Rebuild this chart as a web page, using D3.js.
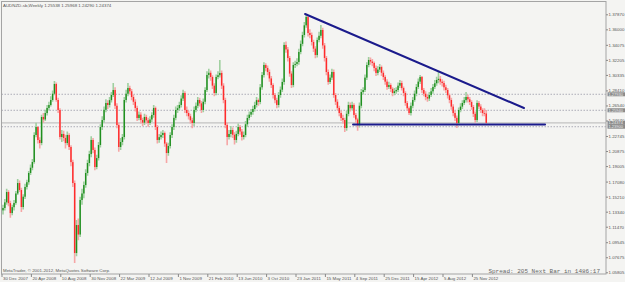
<!DOCTYPE html>
<html>
<head>
<meta charset="utf-8">
<script src="https://cdn.jsdelivr.net/npm/d3@7"></script>
<style>
  body { margin: 0; background: #f4f4f2; }
  svg { display: block; font-family: "Liberation Sans", Arial, sans-serif; }
</style>
</head>
<body>
<div id="chart"></div>
<script>
// weekly AUDNZD bars, index 0 = week of 30 Dec 2007
const opens = [
1.1350,1.1380,1.1450,1.1578,1.1440,1.1317,1.1390,1.1442,1.1560,1.1690,1.1603,1.1392,
1.1520,1.1641,1.1700,1.1815,1.1880,1.1951,1.2287,1.2386,1.2225,1.2187,1.2511,1.2480,
1.2560,1.2623,1.2660,1.2722,1.2800,1.2921,1.2722,1.2598,1.2262,1.2300,1.2250,1.2187,
1.2287,1.2138,1.1950,1.1690,1.0820,1.1168,1.1050,1.1479,1.1560,1.1665,1.1815,1.1939,
1.2050,1.2225,1.2101,1.1889,1.2000,1.2163,1.2386,1.2473,1.2600,1.2685,1.2660,1.2720,
1.2784,1.2846,1.2650,1.2411,1.2138,1.2200,1.2262,1.2722,1.2800,1.2871,1.2830,1.2759,
1.2700,1.2623,1.2498,1.2540,1.2473,1.2440,1.2511,1.2470,1.2436,1.2480,1.2536,1.2623,
1.2386,1.2225,1.2260,1.2287,1.2312,1.2180,1.2063,1.2150,1.2287,1.2386,1.2500,1.2598,
1.2620,1.2660,1.2740,1.2809,1.2598,1.2560,1.2520,1.2470,1.2436,1.2598,1.2650,1.2722,
1.2680,1.2598,1.2700,1.2846,1.3033,1.3060,1.3008,1.2900,1.2809,1.3008,1.3030,1.3058,
1.2900,1.2722,1.2411,1.2262,1.2300,1.2349,1.2290,1.2225,1.2300,1.2386,1.2330,1.2262,
1.2287,1.2420,1.2498,1.2540,1.2573,1.2610,1.2660,1.2720,1.2697,1.2880,1.3033,1.3157,
1.3120,1.3070,1.2990,1.2908,1.2784,1.2720,1.2660,1.2784,1.2850,1.2946,1.3406,1.3350,
1.3244,1.3050,1.2908,1.3157,1.3170,1.3194,1.3319,1.3420,1.3530,1.3650,1.3754,1.3555,
1.3530,1.3443,1.3360,1.3281,1.3468,1.3520,1.3592,1.3400,1.3244,1.3070,1.2946,1.3000,
1.3070,1.2784,1.2700,1.2623,1.2560,1.2498,1.2473,1.2374,1.2550,1.2660,1.2620,1.2660,
1.2536,1.2480,1.2411,1.2650,1.2821,1.2846,1.3000,1.3157,1.3219,1.3200,1.3182,1.3120,
1.3058,1.3100,1.3132,1.3060,1.3008,1.2950,1.2884,1.2908,1.2860,1.2809,1.2830,1.2846,
1.2900,1.2933,1.2870,1.2809,1.2685,1.2620,1.2560,1.2650,1.2722,1.2800,1.2884,1.2950,
1.3008,1.2846,1.2800,1.2759,1.2740,1.2784,1.2830,1.2884,1.2930,1.2971,1.2985,1.2950,
1.2933,1.2880,1.2846,1.2780,1.2722,1.2640,1.2560,1.2500,1.2436,1.2598,1.2640,1.2685,
1.2720,1.2759,1.2730,1.2697,1.2635,1.2550,1.2473,1.2685,1.2640,1.2598,1.2560,1.2554
];
const highs = [
1.1420,1.1490,1.1620,1.1600,1.1470,1.1420,1.1480,1.1590,1.1740,1.1720,1.1630,1.1550,
1.1680,1.1730,1.1840,1.1920,1.1990,1.2320,1.2440,1.2400,1.2260,1.2540,1.2560,1.2600,
1.2660,1.2700,1.2770,1.2840,1.2958,1.2940,1.2750,1.2620,1.2350,1.2340,1.2290,1.2330,
1.2310,1.2160,1.1980,1.1720,1.1230,1.1250,1.1520,1.1620,1.1710,1.1860,1.1980,1.2090,
1.2270,1.2250,1.2130,1.2040,1.2200,1.2420,1.2520,1.2640,1.2730,1.2720,1.2760,1.2820,
1.2933,1.2880,1.2680,1.2440,1.2250,1.2300,1.2760,1.2850,1.2933,1.2900,1.2860,1.2790,
1.2730,1.2650,1.2580,1.2570,1.2500,1.2550,1.2540,1.2500,1.2520,1.2570,1.2660,1.2640,
1.2410,1.2300,1.2330,1.2350,1.2330,1.2200,1.2190,1.2320,1.2420,1.2540,1.2640,1.2660,
1.2700,1.2780,1.2850,1.2830,1.2640,1.2590,1.2550,1.2500,1.2640,1.2690,1.2760,1.2750,
1.2710,1.2740,1.2880,1.3080,1.3110,1.3090,1.3030,1.2930,1.3040,1.3080,1.3219,1.3090,
1.2930,1.2750,1.2440,1.2350,1.2400,1.2380,1.2320,1.2340,1.2430,1.2410,1.2360,1.2330,
1.2460,1.2540,1.2580,1.2610,1.2650,1.2700,1.2760,1.2740,1.2920,1.3070,1.3190,1.3180,
1.3150,1.3100,1.3020,1.2930,1.2810,1.2750,1.2820,1.2890,1.2990,1.3440,1.3450,1.3380,
1.3270,1.3080,1.3190,1.3210,1.3240,1.3360,1.3460,1.3570,1.3690,1.3791,1.3770,1.3600,
1.3560,1.3470,1.3390,1.3500,1.3570,1.3654,1.3620,1.3430,1.3270,1.3100,1.3040,1.3110,
1.3100,1.2810,1.2730,1.2650,1.2590,1.2540,1.2500,1.2590,1.2700,1.2690,1.2700,1.2680,
1.2560,1.2500,1.2690,1.2860,1.2880,1.3040,1.3190,1.3256,1.3250,1.3230,1.3200,1.3150,
1.3140,1.3170,1.3150,1.3090,1.3030,1.2980,1.2950,1.2930,1.2880,1.2870,1.2880,1.2940,
1.2970,1.2960,1.2890,1.2830,1.2710,1.2640,1.2690,1.2760,1.2840,1.2920,1.2990,1.3033,
1.3020,1.2870,1.2830,1.2790,1.2820,1.2870,1.2920,1.2970,1.3010,1.3070,1.3020,1.2980,
1.2960,1.2910,1.2870,1.2800,1.2750,1.2670,1.2590,1.2530,1.2630,1.2680,1.2720,1.2760,
1.2821,1.2790,1.2760,1.2720,1.2660,1.2580,1.2720,1.2710,1.2670,1.2620,1.2620,1.2597
];
const lows = [
1.1300,1.1350,1.1420,1.1400,1.1260,1.1290,1.1350,1.1420,1.1540,1.1580,1.1330,1.1360,
1.1490,1.1610,1.1670,1.1790,1.1850,1.1930,1.2260,1.2180,1.2120,1.2160,1.2440,1.2460,
1.2530,1.2590,1.2640,1.2700,1.2780,1.2700,1.2560,1.2230,1.2200,1.2210,1.2120,1.2160,
1.2100,1.1900,1.1640,1.0696,1.0780,1.0980,1.1020,1.1420,1.1500,1.1630,1.1780,1.1900,
1.2010,1.2060,1.1850,1.1860,1.1970,1.2130,1.2350,1.2440,1.2570,1.2610,1.2630,1.2690,
1.2760,1.2610,1.2370,1.2080,1.2100,1.2160,1.2230,1.2690,1.2770,1.2790,1.2720,1.2660,
1.2580,1.2460,1.2470,1.2430,1.2400,1.2410,1.2430,1.2390,1.2410,1.2450,1.2500,1.2350,
1.2180,1.2190,1.2230,1.2250,1.2140,1.1939,1.2030,1.2120,1.2250,1.2350,1.2470,1.2560,
1.2590,1.2630,1.2710,1.2560,1.2520,1.2480,1.2430,1.2370,1.2400,1.2570,1.2620,1.2640,
1.2560,1.2570,1.2670,1.2820,1.2990,1.2960,1.2860,1.2770,1.2780,1.2980,1.3000,1.2860,
1.2680,1.2370,1.2160,1.2230,1.2260,1.2250,1.2170,1.2190,1.2270,1.2290,1.2220,1.2230,
1.2260,1.2390,1.2470,1.2510,1.2540,1.2580,1.2630,1.2650,1.2670,1.2850,1.3000,1.3080,
1.3030,1.2950,1.2870,1.2740,1.2680,1.2620,1.2630,1.2750,1.2820,1.2910,1.3310,1.3200,
1.3010,1.2870,1.2880,1.3120,1.3140,1.3160,1.3290,1.3390,1.3500,1.3620,1.3510,1.3490,
1.3400,1.3320,1.3240,1.3250,1.3440,1.3490,1.3360,1.3200,1.3030,1.2910,1.2920,1.2970,
1.2750,1.2660,1.2590,1.2520,1.2460,1.2430,1.2324,1.2340,1.2520,1.2580,1.2590,1.2500,
1.2440,1.2340,1.2380,1.2620,1.2790,1.2820,1.2970,1.3130,1.3160,1.3140,1.3080,1.3020,
1.3030,1.3070,1.3020,1.2970,1.2910,1.2850,1.2860,1.2820,1.2770,1.2780,1.2800,1.2820,
1.2870,1.2840,1.2770,1.2650,1.2590,1.2536,1.2530,1.2620,1.2700,1.2770,1.2860,1.2920,
1.2810,1.2770,1.2720,1.2700,1.2710,1.2760,1.2800,1.2860,1.2900,1.2930,1.2910,1.2890,
1.2840,1.2810,1.2740,1.2680,1.2600,1.2520,1.2460,1.2374,1.2410,1.2570,1.2610,1.2660,
1.2690,1.2690,1.2660,1.2600,1.2510,1.2440,1.2450,1.2610,1.2560,1.2520,1.2520,1.2429
];
const closes = [
1.1380,1.1450,1.1578,1.1440,1.1317,1.1390,1.1442,1.1560,1.1690,1.1603,1.1392,1.1520,
1.1641,1.1700,1.1815,1.1880,1.1951,1.2287,1.2386,1.2225,1.2187,1.2511,1.2480,1.2560,
1.2623,1.2660,1.2722,1.2800,1.2921,1.2722,1.2598,1.2262,1.2300,1.2250,1.2187,1.2287,
1.2138,1.1950,1.1690,1.0820,1.1168,1.1050,1.1479,1.1560,1.1665,1.1815,1.1939,1.2050,
1.2225,1.2101,1.1889,1.2000,1.2163,1.2386,1.2473,1.2600,1.2685,1.2660,1.2720,1.2784,
1.2846,1.2650,1.2411,1.2138,1.2200,1.2262,1.2722,1.2800,1.2871,1.2830,1.2759,1.2700,
1.2623,1.2498,1.2540,1.2473,1.2440,1.2511,1.2470,1.2436,1.2480,1.2536,1.2623,1.2386,
1.2225,1.2260,1.2287,1.2312,1.2180,1.2063,1.2150,1.2287,1.2386,1.2500,1.2598,1.2620,
1.2660,1.2740,1.2809,1.2598,1.2560,1.2520,1.2470,1.2436,1.2598,1.2650,1.2722,1.2680,
1.2598,1.2700,1.2846,1.3033,1.3060,1.3008,1.2900,1.2809,1.3008,1.3030,1.3058,1.2900,
1.2722,1.2411,1.2262,1.2300,1.2349,1.2290,1.2225,1.2300,1.2386,1.2330,1.2262,1.2287,
1.2420,1.2498,1.2540,1.2573,1.2610,1.2660,1.2720,1.2697,1.2880,1.3033,1.3157,1.3120,
1.3070,1.2990,1.2908,1.2784,1.2720,1.2660,1.2784,1.2850,1.2946,1.3406,1.3350,1.3244,
1.3050,1.2908,1.3157,1.3170,1.3194,1.3319,1.3420,1.3530,1.3650,1.3754,1.3555,1.3530,
1.3443,1.3360,1.3281,1.3468,1.3520,1.3592,1.3400,1.3244,1.3070,1.2946,1.3000,1.3070,
1.2784,1.2700,1.2623,1.2560,1.2498,1.2473,1.2374,1.2550,1.2660,1.2620,1.2660,1.2536,
1.2480,1.2411,1.2650,1.2821,1.2846,1.3000,1.3157,1.3219,1.3200,1.3182,1.3120,1.3058,
1.3100,1.3132,1.3060,1.3008,1.2950,1.2884,1.2908,1.2860,1.2809,1.2830,1.2846,1.2900,
1.2933,1.2870,1.2809,1.2685,1.2620,1.2560,1.2650,1.2722,1.2800,1.2884,1.2950,1.3008,
1.2846,1.2800,1.2759,1.2740,1.2784,1.2830,1.2884,1.2930,1.2971,1.2985,1.2950,1.2933,
1.2880,1.2846,1.2780,1.2722,1.2640,1.2560,1.2500,1.2436,1.2598,1.2640,1.2685,1.2720,
1.2759,1.2730,1.2697,1.2635,1.2550,1.2473,1.2685,1.2640,1.2598,1.2560,1.2554,1.2437
];

// axis labels
const dateTicks = [0, 16, 32, 48, 64, 80, 96, 112, 128, 144, 160, 176, 192, 208, 224, 240, 256];
const dateLabels = ["30 Dec 2007", "20 Apr 2008", "10 Aug 2008", "30 Nov 2008", "22 Mar 2009",
  "12 Jul 2009", "1 Nov 2009", "21 Feb 2010", "13 Jun 2010", "3 Oct 2010", "23 Jan 2011",
  "15 May 2011", "4 Sep 2011", "25 Dec 2011", "15 Apr 2012", "5 Aug 2012", "25 Nov 2012"];
const priceTicks = [1.05805, 1.07675, 1.09545, 1.11470, 1.13340, 1.15210, 1.17080, 1.19005,
  1.20875, 1.22745, 1.24670, 1.26540, 1.28410, 1.30335, 1.32205, 1.34075, 1.36000, 1.37870];

// horizontal levels and the drawn triangle
const dottedLevels = [1.27930, 1.25940, 1.23900];
const bidPrice = 1.24374;
const upperTrend = [[164.4, 1.3791], [283.5, 1.2622]];
const lowerTrend = [[190.5, 1.2416], [295.0, 1.2416]];

const titleText = "AUDNZD-sb,Weekly  1.25538 1.25968 1.24290 1.24374";

const width = 625, height = 282;
const frame = {left: 1.5, top: 1.5, right: 606, bottom: 274};
const small = "4.4px";

const svg = d3.select("#chart").append("svg")
    .attr("width", width)
    .attr("height", height);

svg.append("rect")
    .attr("width", width).attr("height", height)
    .attr("fill", "#f4f4f2");

const x = d3.scaleLinear().domain([0, 256]).range([3, 473.4]);
const y = d3.scaleLinear().domain([1.05805, 1.37870]).range([272.3, 14.3]);

svg.append("clipPath").attr("id", "plot")
  .append("rect")
    .attr("x", frame.left).attr("y", frame.top)
    .attr("width", frame.right - frame.left)
    .attr("height", frame.bottom - frame.top);

const plot = svg.append("g").attr("clip-path", "url(#plot)");

// dotted level lines
plot.selectAll(".lvl")
  .data(dottedLevels)
  .join("line")
    .attr("x1", frame.left).attr("x2", frame.right)
    .attr("y1", d => y(d)).attr("y2", d => y(d))
    .attr("stroke", "#9a9aa8")
    .attr("stroke-width", 0.8)
    .attr("stroke-dasharray", "1.5,1.5");

// bid line
plot.append("line")
    .attr("x1", frame.left).attr("x2", frame.right)
    .attr("y1", y(bidPrice)).attr("y2", y(bidPrice))
    .attr("stroke", "#a8a8a8")
    .attr("stroke-width", 0.8);

const bars = closes.map((c, i) => ({i: i, o: opens[i], h: highs[i], l: lows[i], c: c}));

// wicks
plot.append("g")
  .selectAll("line")
  .data(bars)
  .join("line")
    .attr("x1", d => x(d.i)).attr("x2", d => x(d.i))
    .attr("y1", d => y(d.h)).attr("y2", d => y(d.l))
    .attr("stroke", d => d.c >= d.o ? "#9fcf9f" : "#f6a6a6")
    .attr("stroke-width", 1.6);

// bodies
plot.append("g")
  .selectAll("rect")
  .data(bars)
  .join("rect")
    .attr("x", d => x(d.i) - 0.7)
    .attr("y", d => y(Math.max(d.o, d.c)))
    .attr("width", 1.4)
    .attr("height", d => Math.max(0.8, Math.abs(y(d.o) - y(d.c))))
    .attr("fill", d => d.c >= d.o ? "#1f8f1f" : "#ff2b2b");

// trend lines
const line = d3.line().x(d => x(d[0])).y(d => y(d[1]));
[upperTrend, lowerTrend].forEach(t => {
  plot.append("path")
      .attr("d", line(t))
      .attr("fill", "none")
      .attr("stroke", "#1b1b8c")
      .attr("stroke-width", 2)
      .attr("stroke-linecap", "round");
});

// frame
svg.append("rect")
    .attr("x", frame.left).attr("y", frame.top)
    .attr("width", frame.right - frame.left)
    .attr("height", frame.bottom - frame.top)
    .attr("fill", "none")
    .attr("stroke", "#a4a4a4")
    .attr("stroke-width", 1);

// right price axis
svg.append("g")
    .attr("transform", `translate(${frame.right},0)`)
    .call(d3.axisRight(y).tickValues(priceTicks).tickSize(2).tickFormat(d3.format(".5f")))
    .call(g => g.select(".domain").remove())
    .call(g => g.selectAll("line").attr("stroke", "#888"))
    .call(g => g.selectAll("text")
        .attr("x", 2.5).attr("fill", "#555")
        .style("font-size", small));

// price boxes for the level lines
const boxes = dottedLevels.concat([bidPrice]);
const boxG = svg.append("g");
boxG.selectAll("rect")
  .data(boxes)
  .join("rect")
    .attr("x", frame.right + 1.5).attr("y", d => y(d) - 2)
    .attr("width", 17.5).attr("height", 4)
    .attr("fill", "#8a8a8a");
boxG.selectAll("text")
  .data(boxes)
  .join("text")
    .attr("x", frame.right + 2.5).attr("y", d => y(d) + 1.4)
    .attr("fill", "#f0f0f0")
    .style("font-size", "4px")
    .text(d => d3.format(".5f")(d));

// bottom date axis
svg.append("g")
    .attr("transform", `translate(-1.5,${frame.bottom})`)
    .call(d3.axisBottom(x).tickValues(dateTicks).tickSize(3).tickFormat((d, k) => dateLabels[k]))
    .call(g => g.select(".domain").remove())
    .call(g => g.selectAll("line").attr("stroke", "#888"))
    .call(g => g.selectAll("text")
        .attr("y", 2.8).attr("x", 1)
        .attr("text-anchor", "start")
        .attr("fill", "#555")
        .style("font-size", small));

// texts
svg.append("text")
    .attr("x", 3).attr("y", 7)
    .attr("fill", "#555")
    .style("font-size", small)
    .text(titleText);

svg.append("text")
    .attr("x", 3).attr("y", 271.5)
    .attr("fill", "#555")
    .style("font-size", small)
    .text("MetaTrader, \u00a9 2001-2012, MetaQuotes Software Corp.");

svg.append("text")
    .attr("x", 600).attr("y", 272.5)
    .attr("text-anchor", "end")
    .attr("fill", "#666")
    .style("font-family", "'Liberation Mono', 'DejaVu Sans Mono', monospace")
    .style("font-size", "6px")
    .text("Spread: 205 Next Bar in 1486:17");
</script>
</body>
</html>
